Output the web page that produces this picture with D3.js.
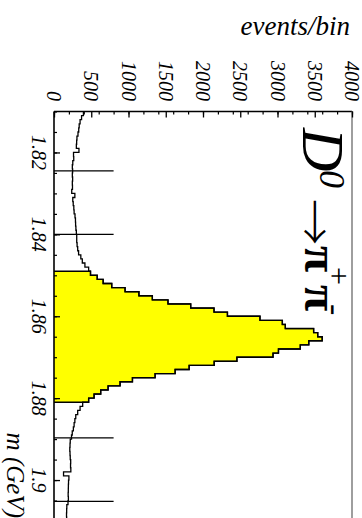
<!DOCTYPE html>
<html>
<head>
<meta charset="utf-8">
<script src="https://cdn.jsdelivr.net/npm/d3@7"></script>
<style>
  html, body { margin: 0; padding: 0; background: #ffffff; }
  svg { display: block; }
  text { font-family: "Liberation Serif", "Times New Roman", serif; fill: #000; }
</style>
</head>
<body>
<svg id="chart" width="362" height="518"></svg>
<script>
// ---- data -------------------------------------------------------------
// D0 -> pi+ pi- invariant mass spectrum, 1 MeV bins from 1.810 GeV
const massRange = [1.81, 1.91];
const eventRange = [0, 4000];
const binStart = 1.81;
const binWidth = 0.001;

// events per bin, 1.810 ... 1.848 (lower sideband side)
const lowCounts = [
  395, 370, 350, 338, 332, 322, 308, 304, 300, 335,
  262, 265, 252, 246, 250, 246, 250, 246, 248, 238,
  280, 252, 258, 266, 270, 282, 288, 290, 294, 300,
  305, 305, 310, 318, 330, 360, 380, 415, 465
];
// events per bin, 1.849 ... 1.880 (signal window)
const peakCounts = [
  490, 580, 660, 775, 954, 1140, 1320, 1530, 1835, 2148,
  2328, 2765, 3065, 3105, 3485, 3540, 3600, 3420, 3306, 3013,
  2940, 2455, 2150, 1814, 1626, 1357, 1053, 887, 726, 627,
  538, 465
];
// events per bin, 1.881 ... 1.909 (upper sideband side)
const highCounts = [
  385, 350, 318, 292, 280, 270, 260, 245, 235, 218,
  215, 212, 215, 218, 224, 222, 226, 128, 200, 195,
  193, 192, 190, 193, 188, 172, 170, 168, 170
];

const signalWindow = [1.849, 1.881];
const sidebandEdges = [1.8245, 1.8400, 1.8897, 1.9052];
const sidebandMarkHeight = 800;

const eventTicks = [0, 500, 1000, 1500, 2000, 2500, 3000, 3500, 4000];
const eventTickLabels = ["0", "500", "1000", "1500", "2000", "2500", "3000", "3500", "4000"];
const massTicks = [1.82, 1.84, 1.86, 1.88, 1.90];
const massTickLabels = ["1.82", "1.84", "1.86", "1.88", "1.9"];

// ---- layout -----------------------------------------------------------
const svg = d3.select("#chart");
const frame = { left: 54, right: 352, top: 111.5, bottom: 521 };

// events run left -> right, mass runs top -> bottom
const x = d3.scaleLinear().domain(eventRange).range([frame.left, frame.right]);
const y = d3.scaleLinear().domain(massRange).range([frame.top, frame.bottom]);

const counts = lowCounts.concat(peakCounts, highCounts);
const bins = counts.map((v, i) => ({
  lo: binStart + i * binWidth,
  hi: binStart + (i + 1) * binWidth,
  v
}));

// step outline points
const stepPoints = [];
bins.forEach(b => { stepPoints.push({ m: b.lo, v: b.v }); stepPoints.push({ m: b.hi, v: b.v }); });

// signal window fill
const eps = binWidth / 10;
const sigBins = bins.filter(b => b.lo >= signalWindow[0] - eps && b.hi <= signalWindow[1] + eps);
const sigPoints = [];
sigBins.forEach(b => { sigPoints.push({ m: b.lo, v: b.v }); sigPoints.push({ m: b.hi, v: b.v }); });

const area = d3.area()
  .x0(() => x(0))
  .x1(d => x(d.v))
  .y(d => y(d.m));

svg.append("path")
  .attr("d", area(sigPoints))
  .attr("fill", "#ffff00")
  .attr("stroke", "none");

// closed border of the filled window
const sigBorder = [{ m: signalWindow[0], v: 0 }].concat(sigPoints, [{ m: signalWindow[1], v: 0 }]);
svg.append("path")
  .attr("d", d3.line().x(d => x(d.v)).y(d => y(d.m))(sigBorder))
  .attr("fill", "none")
  .attr("stroke", "#000")
  .attr("stroke-width", 1.4);

// full histogram outline
svg.append("path")
  .attr("d", d3.line().x(d => x(d.v)).y(d => y(d.m))(stepPoints))
  .attr("fill", "none")
  .attr("stroke", "#000")
  .attr("stroke-width", 1.3);

// sideband markers
svg.selectAll("line.sb")
  .data(sidebandEdges)
  .join("line")
  .attr("class", "sb")
  .attr("x1", x(0)).attr("x2", x(sidebandMarkHeight))
  .attr("y1", d => y(d)).attr("y2", d => y(d))
  .attr("stroke", "#000")
  .attr("stroke-width", 1.3);

// frame
svg.append("line").attr("x1", frame.left).attr("x2", frame.right)
  .attr("y1", frame.top).attr("y2", frame.top)
  .attr("stroke", "#000").attr("stroke-width", 1.6);
svg.append("line").attr("x1", frame.left).attr("x2", frame.left)
  .attr("y1", frame.top).attr("y2", frame.bottom)
  .attr("stroke", "#000").attr("stroke-width", 1.6);
svg.append("line").attr("x1", frame.right).attr("x2", frame.right)
  .attr("y1", frame.top).attr("y2", frame.bottom)
  .attr("stroke", "#6a6a6a").attr("stroke-width", 1.3);

// event axis ticks (pointing into the frame)
function styleTicks(g, w) {
  g.select(".domain").remove();
  g.selectAll(".tick line").attr("stroke", "#000").attr("stroke-width", w);
  g.selectAll(".tick text").remove();
}
svg.append("g")
  .attr("transform", `translate(0,${frame.top})`)
  .call(d3.axisBottom(x).ticks(16).tickSize(3).tickFormat(""))
  .call(g => styleTicks(g, 1.2));
svg.append("g")
  .attr("transform", `translate(0,${frame.top})`)
  .call(d3.axisBottom(x).tickValues(eventTicks).tickSize(6).tickFormat(""))
  .call(g => styleTicks(g, 1.3));

// mass axis ticks
svg.append("g")
  .attr("transform", `translate(${frame.left},0)`)
  .call(d3.axisRight(y).ticks(20).tickSize(3).tickFormat(""))
  .call(g => styleTicks(g, 1.2));
svg.append("g")
  .attr("transform", `translate(${frame.left},0)`)
  .call(d3.axisRight(y).tickValues(massTicks).tickSize(6).tickFormat(""))
  .call(g => styleTicks(g, 1.3));

// tick labels, turned a quarter clockwise
const labelFont = 20;
svg.selectAll("text.evlab")
  .data(eventTicks)
  .join("text")
  .attr("class", "evlab")
  .attr("x", d => x(d))
  .attr("y", 101)
  .attr("transform", d => `rotate(90,${x(d)},101)`)
  .attr("text-anchor", "end")
  .attr("dominant-baseline", "central")
  .style("font-style", "italic")
  .style("font-size", labelFont + "px")
  .text((d, i) => eventTickLabels[i]);

svg.selectAll("text.mlab")
  .data(massTicks)
  .join("text")
  .attr("class", "mlab")
  .attr("x", 38.5)
  .attr("y", d => y(d))
  .attr("transform", d => `rotate(90,38.5,${y(d)})`)
  .attr("text-anchor", "middle")
  .attr("dominant-baseline", "central")
  .style("font-style", "italic")
  .style("font-size", labelFont + "px")
  .text((d, i) => massTickLabels[i]);

// axis titles
svg.append("text")
  .attr("x", 350).attr("y", 35)
  .attr("text-anchor", "end")
  .style("font-style", "italic")
  .style("font-size", "27px")
  .text("events/bin");

svg.append("text")
  .attr("x", 6.5).attr("y", 518)
  .attr("transform", "rotate(90,6.5,518)")
  .attr("text-anchor", "end")
  .style("font-style", "italic")
  .style("font-size", "25px")
  .text("m (GeV)");

// decay label
function rotText(txt, ypos, xbase, size, opts = {}) {
  const t = svg.append("text")
    .attr("x", xbase).attr("y", ypos)
    .attr("transform", `rotate(90,${xbase},${ypos})`)
    .style("font-size", size + "px")
    .text(txt);
  if (opts.italic) t.style("font-style", "italic");
  if (opts.bold) t.style("font-weight", opts.bold);
  if (opts.family) t.style("font-family", opts.family);
  if (opts.baseline) t.attr("dominant-baseline", opts.baseline);
  return t;
}
rotText("D", 128, 303, 60, { italic: true });
rotText("0", 170, 320, 36, { italic: true });
rotText("\u2192", 199, 318, 46, { family: "Noto Sans CJK SC", bold: 300, baseline: "central" });
rotText("\u03C0", 246, 305, 48, { bold: "bold" });
rotText("+", 267, 328, 32);
rotText("\u03C0", 285, 305, 48, { bold: "bold" });
rotText("-", 304, 324, 34);
</script>
</body>
</html>
